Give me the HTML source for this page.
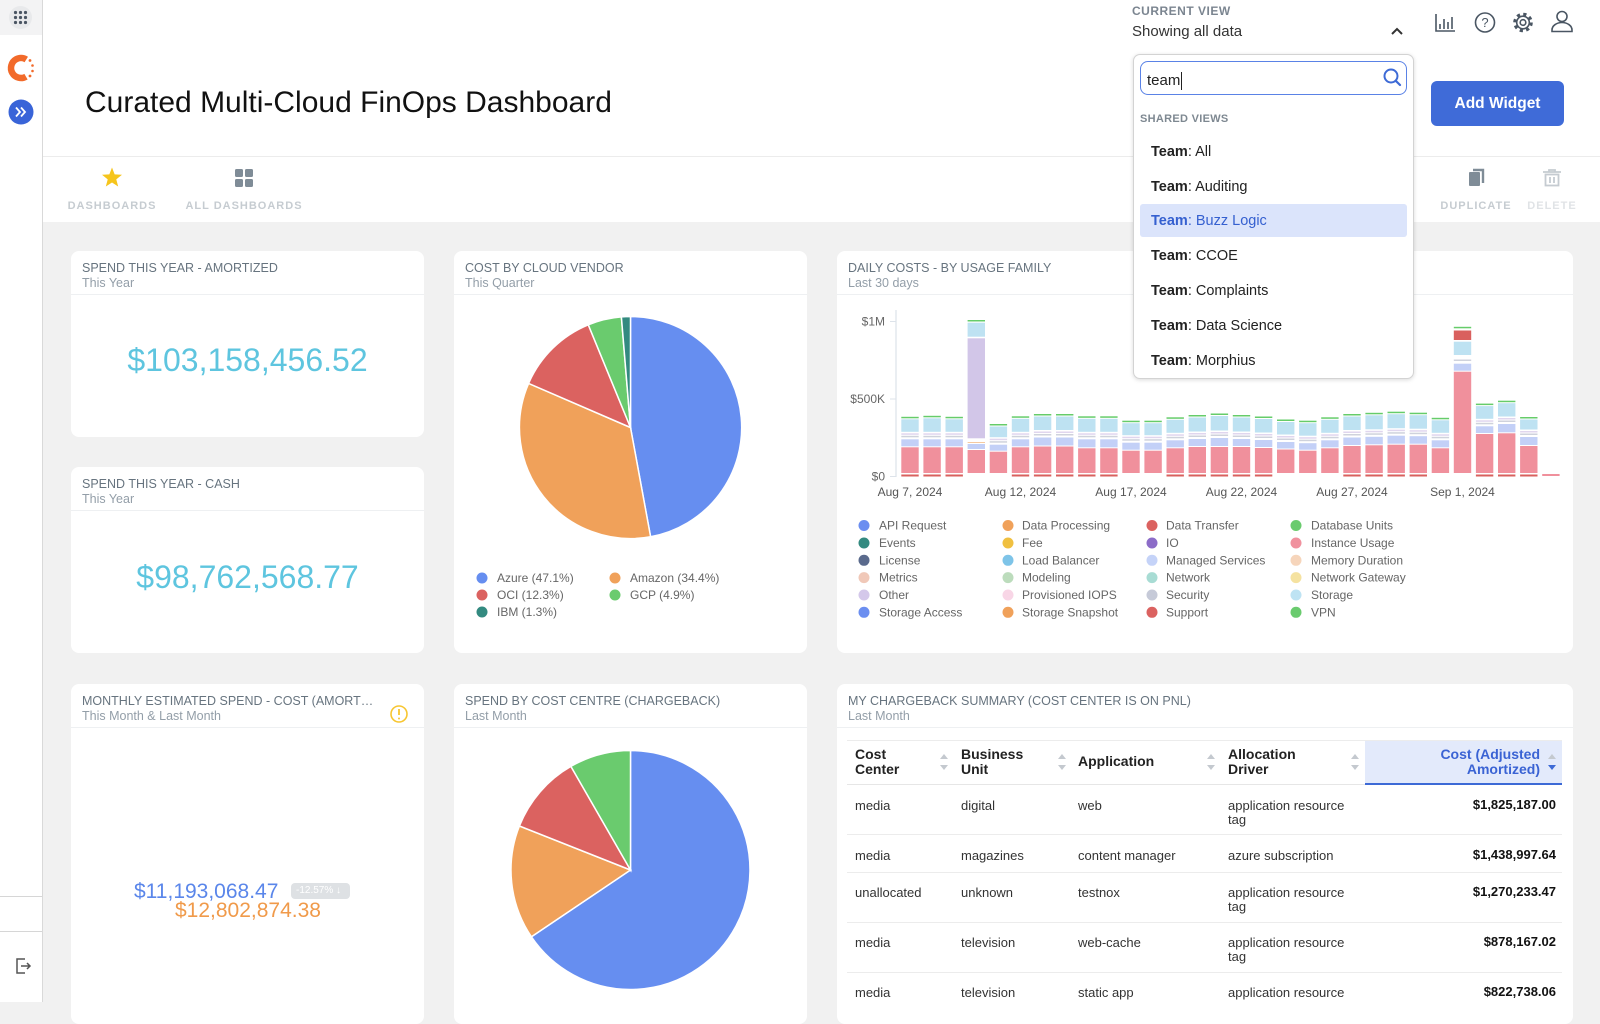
<!DOCTYPE html>
<html><head><meta charset="utf-8">
<style>
*{box-sizing:border-box;margin:0;padding:0}
html,body{width:1600px;height:1002px;overflow:hidden;background:#f1f1f1;font-family:"Liberation Sans",sans-serif}
.a{position:absolute;white-space:nowrap}
.card{position:absolute;background:#fff;border-radius:8px;overflow:hidden;z-index:1}
.ct{position:absolute;left:11px;top:10px;font-size:12.5px;line-height:14px;color:#67747f;white-space:nowrap}
.cs{position:absolute;left:11px;top:25px;font-size:12.5px;line-height:14px;color:#939ea8;white-space:nowrap}
.cd{position:absolute;left:0;right:0;top:43px;height:1px;background:#eef0f2}
.nav{font-size:11px;font-weight:bold;letter-spacing:1px;color:#c6ccd1;line-height:14px;text-align:center}
.td{font-size:13px;line-height:13.5px;color:#333}
.th{font-size:14px;font-weight:bold;line-height:15px;color:#222}
.amt{font-size:13px;font-weight:bold;color:#111;line-height:14px;text-align:right;width:150px}
.dd{position:absolute;left:1133px;top:54px;width:281px;height:325px;background:#fff;border:1px solid #d3d3d3;border-radius:7px;box-shadow:0 1px 4px rgba(0,0,0,.15);z-index:5}
.it{position:absolute;left:17px;font-size:14.5px;line-height:18px;color:#222;white-space:nowrap}
.it b{font-weight:bold}
</style></head><body>

<!-- sidebar -->
<div class="a" style="left:0;top:0;width:43px;height:1002px;background:#fff;border-right:1px solid #d9d9d9"></div>
<div class="a" style="left:0;top:0;width:42px;height:35px;background:#f3f3f4"></div>
<div class="a" style="left:0;top:896px;width:42px;height:1px;background:#d6d6d6"></div>
<div class="a" style="left:0;top:931px;width:42px;height:1px;background:#d6d6d6"></div>

<!-- header -->
<div class="a" style="left:43px;top:0;width:1557px;height:222px;background:#fff"></div>
<div class="a" style="left:43px;top:156px;width:1557px;height:1px;background:#ececec"></div>
<div class="a" style="left:85px;top:85px;font-size:30px;line-height:36px;color:#111">Curated Multi-Cloud FinOps Dashboard</div>

<div class="a nav" style="left:52px;top:199px;width:120px">DASHBOARDS</div>
<div class="a nav" style="left:174px;top:199px;width:140px">ALL DASHBOARDS</div>
<div class="a nav" style="left:1426px;top:199px;width:100px">DUPLICATE</div>
<div class="a nav" style="left:1522px;top:199px;width:60px;color:#e0e3e6">DELETE</div>

<div class="a" style="left:1132px;top:4px;font-size:12px;font-weight:bold;letter-spacing:.5px;line-height:14px;color:#7b8590">CURRENT VIEW</div>
<div class="a" style="left:1132px;top:23px;font-size:15px;line-height:18px;color:#333">Showing all data</div>

<div class="a" style="left:1431px;top:81px;width:133px;height:45px;background:#3f6bd8;border-radius:6px;color:#fff;font-size:15.5px;font-weight:bold;line-height:45px;text-align:center;z-index:2">Add Widget</div>

<!-- cards -->
<div class="card" style="left:71px;top:251px;width:353px;height:186px">
 <div class="ct">SPEND THIS YEAR - AMORTIZED</div><div class="cs">This Year</div><div class="cd"></div>
 <div class="a" style="left:0;width:353px;top:89px;font-size:32px;line-height:40px;color:#5ec5df;text-align:center">$103,158,456.52</div>
</div>
<div class="card" style="left:71px;top:467px;width:353px;height:186px">
 <div class="ct">SPEND THIS YEAR - CASH</div><div class="cs">This Year</div><div class="cd"></div>
 <div class="a" style="left:0;width:353px;top:90px;font-size:32px;line-height:40px;color:#5ec5df;text-align:center">$98,762,568.77</div>
</div>
<div class="card" style="left:454px;top:251px;width:353px;height:402px">
 <div class="ct">COST BY CLOUD VENDOR</div><div class="cs">This Quarter</div><div class="cd"></div>
</div>
<div class="card" style="left:837px;top:251px;width:736px;height:402px">
 <div class="ct">DAILY COSTS - BY USAGE FAMILY</div><div class="cs">Last 30 days</div><div class="cd"></div>
</div>
<div class="card" style="left:71px;top:684px;width:353px;height:340px">
 <div class="ct">MONTHLY ESTIMATED SPEND - COST (AMORT…</div><div class="cs">This Month &amp; Last Month</div><div class="cd"></div>
 <div class="a" style="left:63px;top:196px;font-size:21px;line-height:24px;color:#5a86ea">$11,193,068.47</div>
 <div class="a" style="left:220px;top:199px;width:59px;height:16px;background:#dee1e4;border-radius:4px;font-size:10px;line-height:16px;color:#fff;padding-left:5px">-12.57% &#8595;</div>
 <div class="a" style="left:104px;top:215px;font-size:21px;line-height:24px;color:#f09a4a">$12,802,874.38</div>
</div>
<div class="card" style="left:454px;top:684px;width:353px;height:340px">
 <div class="ct">SPEND BY COST CENTRE (CHARGEBACK)</div><div class="cs">Last Month</div><div class="cd"></div>
</div>
<div class="card" style="left:837px;top:684px;width:736px;height:340px">
 <div class="ct">MY CHARGEBACK SUMMARY (COST CENTER IS ON PNL)</div><div class="cs">Last Month</div><div class="cd"></div>
 <div class="a" style="left:10px;top:56px;width:715px;height:1px;background:#ececec"></div>
 <div class="a" style="left:528px;top:57px;width:197px;height:42px;background:#e3eafb"></div>
 <div class="a" style="left:10px;top:100px;width:715px;height:1px;background:#e6e6e6"></div>
 <div class="a" style="left:528px;top:99px;width:197px;height:2px;background:#3d6ad6"></div>
 <div class="a" style="left:10px;top:150px;width:715px;height:1px;background:#ececec"></div>
 <div class="a" style="left:10px;top:188px;width:715px;height:1px;background:#ececec"></div>
 <div class="a" style="left:10px;top:238px;width:715px;height:1px;background:#ececec"></div>
 <div class="a" style="left:10px;top:288px;width:715px;height:1px;background:#ececec"></div>
</div>

<!-- table text -->
<div class="a th" style="left:855px;top:747px;z-index:2">Cost<br>Center</div>
<div class="a th" style="left:961px;top:747px;z-index:2">Business<br>Unit</div>
<div class="a th" style="left:1078px;top:754px;z-index:2">Application</div>
<div class="a th" style="left:1228px;top:747px;z-index:2">Allocation<br>Driver</div>
<div class="a th" style="left:1380px;top:747px;width:160px;text-align:right;color:#3a63d4;z-index:2">Cost (Adjusted<br>Amortized)</div>

<div class="a td" style="left:855px;top:799px;z-index:2">media</div>
<div class="a td" style="left:961px;top:799px;z-index:2">digital</div>
<div class="a td" style="left:1078px;top:799px;z-index:2">web</div>
<div class="a td" style="left:1228px;top:799px;z-index:2">application resource<br>tag</div>
<div class="a amt" style="left:1406px;top:798px;z-index:2">$1,825,187.00</div>

<div class="a td" style="left:855px;top:849px;z-index:2">media</div>
<div class="a td" style="left:961px;top:849px;z-index:2">magazines</div>
<div class="a td" style="left:1078px;top:849px;z-index:2">content manager</div>
<div class="a td" style="left:1228px;top:849px;z-index:2">azure subscription</div>
<div class="a amt" style="left:1406px;top:848px;z-index:2">$1,438,997.64</div>

<div class="a td" style="left:855px;top:886px;z-index:2">unallocated</div>
<div class="a td" style="left:961px;top:886px;z-index:2">unknown</div>
<div class="a td" style="left:1078px;top:886px;z-index:2">testnox</div>
<div class="a td" style="left:1228px;top:886px;z-index:2">application resource<br>tag</div>
<div class="a amt" style="left:1406px;top:885px;z-index:2">$1,270,233.47</div>

<div class="a td" style="left:855px;top:936px;z-index:2">media</div>
<div class="a td" style="left:961px;top:936px;z-index:2">television</div>
<div class="a td" style="left:1078px;top:936px;z-index:2">web-cache</div>
<div class="a td" style="left:1228px;top:936px;z-index:2">application resource<br>tag</div>
<div class="a amt" style="left:1406px;top:935px;z-index:2">$878,167.02</div>

<div class="a td" style="left:855px;top:986px;z-index:2">media</div>
<div class="a td" style="left:961px;top:986px;z-index:2">television</div>
<div class="a td" style="left:1078px;top:986px;z-index:2">static app</div>
<div class="a td" style="left:1228px;top:986px;z-index:2">application resource</div>
<div class="a amt" style="left:1406px;top:985px;z-index:2">$822,738.06</div>

<!-- overlay svg -->
<svg class="a" style="left:0;top:0;z-index:3" width="1600" height="1002" viewBox="0 0 1600 1002" font-family="Liberation Sans, sans-serif">
<style>
.dt{fill:#d9605e}.p{fill:#f0909c}.m{fill:#c3d0f7}.g{fill:#cfd2dc}.l{fill:#e0d6ee}.s{fill:#bee2f2}.v{fill:#66cc6a}
.lg{font-size:12px;fill:#666}
</style>
<!-- sidebar icons -->
<circle cx="20.5" cy="17.5" r="11.5" fill="#e8e9eb"/>
<g fill="#4a5563">
<circle cx="15.5" cy="12.5" r="1.6"/><circle cx="20.5" cy="12.5" r="1.6"/><circle cx="25.5" cy="12.5" r="1.6"/>
<circle cx="15.5" cy="17.5" r="1.6"/><circle cx="20.5" cy="17.5" r="1.6"/><circle cx="25.5" cy="17.5" r="1.6"/>
<circle cx="15.5" cy="22.5" r="1.6"/><circle cx="20.5" cy="22.5" r="1.6"/><circle cx="25.5" cy="22.5" r="1.6"/>
</g>
<circle cx="21" cy="68" r="10" fill="none" stroke="#f26a2a" stroke-width="6.5" stroke-dasharray="41.9 20.9" transform="rotate(60 21 68)"/>
<g fill="#f26a2a"><circle cx="30" cy="60.5" r="1.4"/><circle cx="32.5" cy="65.5" r="1.3"/><circle cx="32.5" cy="71" r="1.3"/><circle cx="30" cy="76" r="1.4"/></g>
<circle cx="21" cy="112" r="12.5" fill="#3964d8"/>
<polyline points="16,107.5 20,112 16,116.5" fill="none" stroke="#fff" stroke-width="1.8"/>
<polyline points="21,107.5 25,112 21,116.5" fill="none" stroke="#fff" stroke-width="1.8"/>
<path d="M25,959 h-8 v14 h8" fill="none" stroke="#555" stroke-width="1.5"/>
<path d="M21,966 h9 M27,963 l3,3 l-3,3" fill="none" stroke="#555" stroke-width="1.5"/>

<!-- header icons -->
<polyline points="1392,34 1397,29 1402,34" fill="none" stroke="#333" stroke-width="2"/>
<g fill="none" stroke="#4a5663" stroke-width="1.6">
<path d="M1436,14 V31 H1455"/>
<path d="M1440,29 V24 M1444,29 V19 M1448,29 V22 M1452,29 V17"/>
<circle cx="1485" cy="22.5" r="9.5"/>
<circle cx="1523" cy="22.5" r="8.3" stroke-width="3" stroke-dasharray="3.2 3.32"/>
<circle cx="1523" cy="22.5" r="6.3" fill="#fff"/>
<circle cx="1523" cy="22.5" r="2.8"/>
<circle cx="1562" cy="16.5" r="5"/>
<path d="M1552,31.5 v-1.5 a10,7.5 0 0 1 20,0 v1.5 z"/>
</g>
<text x="1485" y="27" font-size="13" text-anchor="middle" fill="#4a5663">?</text>

<!-- nav icons -->
<polygon points="112,167.5 114.65,174.36 121.99,174.76 116.28,179.39 118.17,186.49 112,182.5 105.83,186.49 107.72,179.39 102.01,174.76 109.35,174.36" fill="#f6c51c"/>
<g fill="#7f8c97"><rect x="235" y="169" width="8" height="8" rx="1.5"/><rect x="245" y="169" width="8" height="8" rx="1.5"/><rect x="235" y="179" width="8" height="8" rx="1.5"/><rect x="245" y="179" width="8" height="8" rx="1.5"/>
<rect x="1469" y="172" width="11" height="14" rx="1"/></g>
<path d="M1473,170 H1483 V183" fill="none" stroke="#7f8c97" stroke-width="2.4"/>
<g fill="none" stroke="#c5cbd1" stroke-width="1.8"><path d="M1543,172 h18 M1549,172 v-2 h6 v2"/><rect x="1545.5" y="174.5" width="13" height="11"/><path d="M1550,177 v6 M1554,177 v6"/></g>

<!-- warning icon -->
<circle cx="399" cy="714" r="8" fill="none" stroke="#f7c631" stroke-width="1.6"/>
<path d="M399,709 v6" stroke="#f7c631" stroke-width="1.8"/><circle cx="399" cy="718.5" r="1" fill="#f7c631"/>

<!-- pie 1 -->
<g stroke="#fff" stroke-width="1.5">
<path d="M630.5,427.5 L630.5,316.5 A111,111 0 0 1 650.6,536.7 Z" fill="#668ef0"/>
<path d="M630.5,427.5 L650.6,536.7 A111,111 0 0 1 528.6,383.4 Z" fill="#f0a15a"/>
<path d="M630.5,427.5 L528.6,383.4 A111,111 0 0 1 588.3,324.8 Z" fill="#db6260"/>
<path d="M630.5,427.5 L588.3,324.8 A111,111 0 0 1 621.4,316.9 Z" fill="#6acb6e"/>
<path d="M630.5,427.5 L621.4,316.9 A111,111 0 0 1 630.5,316.5 Z" fill="#338a80"/>
</g>
<circle cx="482" cy="578" r="5.5" fill="#668ef0"/><text class="lg" x="497" y="582">Azure (47.1%)</text>
<circle cx="615" cy="578" r="5.5" fill="#f0a15a"/><text class="lg" x="630" y="582">Amazon (34.4%)</text>
<circle cx="482" cy="595" r="5.5" fill="#db6260"/><text class="lg" x="497" y="599">OCI (12.3%)</text>
<circle cx="615" cy="595" r="5.5" fill="#6acb6e"/><text class="lg" x="630" y="599">GCP (4.9%)</text>
<circle cx="482" cy="612" r="5.5" fill="#338a80"/><text class="lg" x="497" y="616">IBM (1.3%)</text>

<!-- pie 2 -->
<g stroke="#fff" stroke-width="1.5">
<path d="M630.5,870 L630.5,750.5 A119.5,119.5 0 1 1 531.4,936.8 Z" fill="#668ef0"/>
<path d="M630.5,870 L531.4,936.8 A119.5,119.5 0 0 1 519.4,826 Z" fill="#f0a15a"/>
<path d="M630.5,870 L519.4,826 A119.5,119.5 0 0 1 570.9,766.4 Z" fill="#db6260"/>
<path d="M630.5,870 L570.9,766.4 A119.5,119.5 0 0 1 630.5,750.5 Z" fill="#6acb6e"/>
</g>

<!-- table sort arrows -->
<g fill="#c4c9cf">
<path d="M940,759 h8 l-4,-5 z M940,765 h8 l-4,5 z"/>
<path d="M1058,759 h8 l-4,-5 z M1058,765 h8 l-4,5 z"/>
<path d="M1207,759 h8 l-4,-5 z M1207,765 h8 l-4,5 z"/>
<path d="M1351,759 h8 l-4,-5 z M1351,765 h8 l-4,5 z"/>
<path d="M1548,759 h8 l-4,-5 z"/>
</g>
<path d="M1548,765 h8 l-4,5 z" fill="#3d6ad6"/>

<!-- bar chart axes -->
<line x1="896" y1="310" x2="896" y2="477" stroke="#dde3ea" stroke-width="1.2"/>
<g stroke="#dde3ea"><line x1="890" y1="321.5" x2="896" y2="321.5"/><line x1="890" y1="399" x2="896" y2="399"/><line x1="890" y1="476.5" x2="896" y2="476.5"/></g>
<g class="lg" text-anchor="end"><text x="885" y="325.5">$1M</text><text x="885" y="403">$500K</text><text x="885" y="480.5">$0</text></g>
<g font-size="12" fill="#555" text-anchor="middle">
<text x="910" y="496">Aug 7, 2024</text><text x="1020.5" y="496">Aug 12, 2024</text><text x="1131" y="496">Aug 17, 2024</text>
<text x="1241.5" y="496">Aug 22, 2024</text><text x="1352" y="496">Aug 27, 2024</text><text x="1462.5" y="496">Sep 1, 2024</text>
</g>

<!-- bars -->
<g>
<g transform="translate(901.3,473) scale(1,-1)"><rect class="dt" y="-3.5" width="17.4" height="2"/><rect class="p" width="17.4" height="25.7"/><rect class="m" y="26.7" width="17.4" height="7"/><rect class="g" y="35.7" width="17.4" height="1.5"/><rect class="l" y="38.2" width="17.4" height="1.5"/><rect class="s" y="41.2" width="17.4" height="12.5"/><rect class="v" y="54.7" width="17.4" height="1.5"/></g>
<g transform="translate(923.4,473) scale(1,-1)"><rect class="dt" y="-3.5" width="17.4" height="2"/><rect class="p" width="17.4" height="25.7"/><rect class="m" y="26.7" width="17.4" height="7"/><rect class="g" y="35.7" width="17.4" height="1.5"/><rect class="l" y="38.2" width="17.4" height="1.5"/><rect class="s" y="41.2" width="17.4" height="13.5"/><rect class="v" y="55.7" width="17.4" height="1.5"/></g>
<g transform="translate(945.5,473) scale(1,-1)"><rect class="dt" y="-3.5" width="17.4" height="2"/><rect class="p" width="17.4" height="25.7"/><rect class="m" y="26.7" width="17.4" height="7"/><rect class="g" y="35.7" width="17.4" height="1.5"/><rect class="l" y="38.2" width="17.4" height="1.5"/><rect class="s" y="41.2" width="17.4" height="12.5"/><rect class="v" y="54.7" width="17.4" height="1.5"/></g>
<g transform="translate(967.6,473) scale(1,-1)"><rect class="p" width="17.4" height="23"/><rect class="m" y="24" width="17.4" height="5"/><rect fill="#f5c9a0" y="30" width="17.4" height="1"/><rect fill="#d2c6e8" y="34.7" width="17.4" height="100"/><rect class="s" y="136.3" width="17.4" height="14"/><rect class="v" y="151.5" width="17.4" height="1.5"/></g>
<g transform="translate(989.7,473) scale(1,-1)"><rect class="p" width="17.4" height="21.3"/><rect class="m" y="22.3" width="17.4" height="6"/><rect class="g" y="30.3" width="17.4" height="1.5"/><rect class="l" y="32.8" width="17.4" height="1.5"/><rect class="s" y="35.8" width="17.4" height="10.7"/><rect class="v" y="47.5" width="17.4" height="1.5"/></g>
<g transform="translate(1011.8,473) scale(1,-1)"><rect class="dt" y="-3.5" width="17.4" height="2"/><rect class="p" width="17.4" height="25.7"/><rect class="m" y="26.7" width="17.4" height="7"/><rect class="g" y="35.7" width="17.4" height="1.5"/><rect class="l" y="38.2" width="17.4" height="1.5"/><rect class="s" y="41.2" width="17.4" height="13"/><rect class="v" y="55.2" width="17.4" height="1.5"/></g>
<g transform="translate(1033.9,473) scale(1,-1)"><rect class="dt" y="-3.5" width="17.4" height="2"/><rect class="p" width="17.4" height="26.5"/><rect class="m" y="27.5" width="17.4" height="8"/><rect class="g" y="37.5" width="17.4" height="1.5"/><rect class="l" y="40" width="17.4" height="1.5"/><rect class="s" y="43" width="17.4" height="13.5"/><rect class="v" y="57.5" width="17.4" height="1.5"/></g>
<g transform="translate(1056,473) scale(1,-1)"><rect class="dt" y="-3.5" width="17.4" height="2"/><rect class="p" width="17.4" height="26.5"/><rect class="m" y="27.5" width="17.4" height="8"/><rect class="g" y="37.5" width="17.4" height="1.5"/><rect class="l" y="40" width="17.4" height="1.5"/><rect class="s" y="43" width="17.4" height="13.5"/><rect class="v" y="57.5" width="17.4" height="1.5"/></g>
<g transform="translate(1078.1,473) scale(1,-1)"><rect class="dt" y="-3.5" width="17.4" height="2"/><rect class="p" width="17.4" height="24.7"/><rect class="m" y="25.7" width="17.4" height="8"/><rect class="g" y="35.7" width="17.4" height="1.5"/><rect class="l" y="38.2" width="17.4" height="1.5"/><rect class="s" y="41.2" width="17.4" height="13"/><rect class="v" y="55.2" width="17.4" height="1.5"/></g>
<g transform="translate(1100.2,473) scale(1,-1)"><rect class="dt" y="-3.5" width="17.4" height="2"/><rect class="p" width="17.4" height="24.7"/><rect class="m" y="25.7" width="17.4" height="8"/><rect class="g" y="35.7" width="17.4" height="1.5"/><rect class="l" y="38.2" width="17.4" height="1.5"/><rect class="s" y="41.2" width="17.4" height="13"/><rect class="v" y="55.2" width="17.4" height="1.5"/></g>
<g transform="translate(1122.3,473) scale(1,-1)"><rect class="p" width="17.4" height="22.3"/><rect class="m" y="23.3" width="17.4" height="7"/><rect class="g" y="32.3" width="17.4" height="1.5"/><rect class="l" y="34.8" width="17.4" height="1.5"/><rect class="s" y="37.8" width="17.4" height="12"/><rect class="v" y="50.8" width="17.4" height="1.5"/></g>
<g transform="translate(1144.4,473) scale(1,-1)"><rect class="p" width="17.4" height="22.3"/><rect class="m" y="23.3" width="17.4" height="7"/><rect class="g" y="32.3" width="17.4" height="1.5"/><rect class="l" y="34.8" width="17.4" height="1.5"/><rect class="s" y="37.8" width="17.4" height="12"/><rect class="v" y="50.8" width="17.4" height="1.5"/></g>
<g transform="translate(1166.5,473) scale(1,-1)"><rect class="dt" y="-3.5" width="17.4" height="2"/><rect class="p" width="17.4" height="24.7"/><rect class="m" y="25.7" width="17.4" height="7"/><rect class="g" y="34.7" width="17.4" height="1.5"/><rect class="l" y="37.2" width="17.4" height="1.5"/><rect class="s" y="40.2" width="17.4" height="13"/><rect class="v" y="54.2" width="17.4" height="1.5"/></g>
<g transform="translate(1188.6,473) scale(1,-1)"><rect class="dt" y="-3.5" width="17.4" height="2"/><rect class="p" width="17.4" height="26"/><rect class="m" y="27" width="17.4" height="7"/><rect class="g" y="36" width="17.4" height="1.5"/><rect class="l" y="38.5" width="17.4" height="1.5"/><rect class="s" y="41.5" width="17.4" height="14"/><rect class="v" y="56.5" width="17.4" height="1.5"/></g>
<g transform="translate(1210.7,473) scale(1,-1)"><rect class="dt" y="-3.5" width="17.4" height="2"/><rect class="p" width="17.4" height="26"/><rect class="m" y="27" width="17.4" height="8"/><rect class="g" y="37" width="17.4" height="1.5"/><rect class="l" y="39.5" width="17.4" height="1.5"/><rect class="s" y="42.5" width="17.4" height="14.5"/><rect class="v" y="58" width="17.4" height="1.5"/></g>
<g transform="translate(1232.8,473) scale(1,-1)"><rect class="dt" y="-3.5" width="17.4" height="2"/><rect class="p" width="17.4" height="26"/><rect class="m" y="27" width="17.4" height="7"/><rect class="g" y="36" width="17.4" height="1.5"/><rect class="l" y="38.5" width="17.4" height="1.5"/><rect class="s" y="41.5" width="17.4" height="14"/><rect class="v" y="56.5" width="17.4" height="1.5"/></g>
<g transform="translate(1254.9,473) scale(1,-1)"><rect class="dt" y="-3.5" width="17.4" height="2"/><rect class="p" width="17.4" height="25"/><rect class="m" y="26" width="17.4" height="7"/><rect class="g" y="35" width="17.4" height="1.5"/><rect class="l" y="37.5" width="17.4" height="1.5"/><rect class="s" y="40.5" width="17.4" height="13.5"/><rect class="v" y="55" width="17.4" height="1.5"/></g>
<g transform="translate(1277,473) scale(1,-1)"><rect class="p" width="17.4" height="23.5"/><rect class="m" y="24.5" width="17.4" height="6.5"/><rect class="g" y="33" width="17.4" height="1.5"/><rect class="l" y="35.5" width="17.4" height="1.5"/><rect class="s" y="38.5" width="17.4" height="12.5"/><rect class="v" y="52" width="17.4" height="1.5"/></g>
<g transform="translate(1299.1,473) scale(1,-1)"><rect class="p" width="17.4" height="22.3"/><rect class="m" y="23.3" width="17.4" height="6.5"/><rect class="g" y="31.8" width="17.4" height="1.5"/><rect class="l" y="34.3" width="17.4" height="1.5"/><rect class="s" y="37.3" width="17.4" height="12.5"/><rect class="v" y="50.8" width="17.4" height="1.5"/></g>
<g transform="translate(1321.2,473) scale(1,-1)"><rect class="p" width="17.4" height="24.7"/><rect class="m" y="25.7" width="17.4" height="7"/><rect class="g" y="34.7" width="17.4" height="1.5"/><rect class="l" y="37.2" width="17.4" height="1.5"/><rect class="s" y="40.2" width="17.4" height="13"/><rect class="v" y="54.2" width="17.4" height="1.5"/></g>
<g transform="translate(1343.3,473) scale(1,-1)"><rect class="dt" y="-3.5" width="17.4" height="2"/><rect class="p" width="17.4" height="27"/><rect class="m" y="28" width="17.4" height="7.5"/><rect class="g" y="37.5" width="17.4" height="1.5"/><rect class="l" y="40" width="17.4" height="1.5"/><rect class="s" y="43" width="17.4" height="13.5"/><rect class="v" y="57.5" width="17.4" height="1.5"/></g>
<g transform="translate(1365.4,473) scale(1,-1)"><rect class="dt" y="-3.5" width="17.4" height="2"/><rect class="p" width="17.4" height="27.7"/><rect class="m" y="28.7" width="17.4" height="7.5"/><rect class="g" y="38.2" width="17.4" height="1.5"/><rect class="l" y="40.7" width="17.4" height="1.5"/><rect class="s" y="43.7" width="17.4" height="14"/><rect class="v" y="58.7" width="17.4" height="1.5"/></g>
<g transform="translate(1387.5,473) scale(1,-1)"><rect class="dt" y="-3.5" width="17.4" height="2"/><rect class="p" width="17.4" height="28.3"/><rect class="m" y="29.3" width="17.4" height="8"/><rect class="g" y="39.3" width="17.4" height="1.5"/><rect class="l" y="41.8" width="17.4" height="1.5"/><rect class="s" y="44.8" width="17.4" height="14"/><rect class="v" y="59.8" width="17.4" height="1.5"/></g>
<g transform="translate(1409.6,473) scale(1,-1)"><rect class="dt" y="-3.5" width="17.4" height="2"/><rect class="p" width="17.4" height="28.3"/><rect class="m" y="29.3" width="17.4" height="7.5"/><rect class="g" y="38.8" width="17.4" height="1.5"/><rect class="l" y="41.3" width="17.4" height="1.5"/><rect class="s" y="44.3" width="17.4" height="13.5"/><rect class="v" y="58.8" width="17.4" height="1.5"/></g>
<g transform="translate(1431.7,473) scale(1,-1)"><rect class="p" width="17.4" height="24.7"/><rect class="m" y="25.7" width="17.4" height="7"/><rect class="g" y="34.7" width="17.4" height="1.5"/><rect class="l" y="37.2" width="17.4" height="1.5"/><rect class="s" y="40.2" width="17.4" height="12.5"/><rect class="v" y="53.7" width="17.4" height="1.5"/></g>
<g transform="translate(1453.8,473) scale(1,-1)"><rect class="p" width="17.4" height="101.3"/><rect class="m" y="102.3" width="17.4" height="7"/><rect class="g" y="112" width="17.4" height="1.5"/><rect class="s" y="118" width="17.4" height="13.3"/><rect class="dt" y="133" width="17.4" height="9.5"/><rect class="v" y="144.7" width="17.4" height="1.5"/></g>
<g transform="translate(1475.9,473) scale(1,-1)"><rect class="dt" y="-3.5" width="17.4" height="2"/><rect class="p" width="17.4" height="39"/><rect class="m" y="40" width="17.4" height="6.7"/><rect class="g" y="48.7" width="17.4" height="1.5"/><rect class="l" y="51.2" width="17.4" height="1.5"/><rect class="s" y="54.2" width="17.4" height="12.7"/><rect class="v" y="67.9" width="17.4" height="1.5"/></g>
<g transform="translate(1498,473) scale(1,-1)"><rect class="dt" y="-3.5" width="17.4" height="2"/><rect class="p" width="17.4" height="39.7"/><rect class="m" y="40.7" width="17.4" height="8.3"/><rect class="g" y="51" width="17.4" height="1.5"/><rect class="l" y="53.5" width="17.4" height="1.5"/><rect class="s" y="56.5" width="17.4" height="13.3"/><rect class="v" y="70.8" width="17.4" height="1.5"/></g>
<g transform="translate(1520.1,473) scale(1,-1)"><rect class="dt" y="-3.5" width="17.4" height="2"/><rect class="p" width="17.4" height="27"/><rect class="m" y="28" width="17.4" height="8"/><rect class="g" y="38" width="17.4" height="1.5"/><rect class="l" y="40.5" width="17.4" height="1.5"/><rect class="s" y="43.5" width="17.4" height="10"/><rect class="v" y="54.5" width="17.4" height="1.5"/></g>
<g transform="translate(1542.2,473) scale(1,-1)"><rect class="p" y="-3" width="17.4" height="2"/></g>
</g>

<!-- bar legend -->
<g>
<circle cx="864" cy="525.5" r="5.5" fill="#6b8ef0"/><text class="lg" x="879" y="529.5">API Request</text>
<circle cx="1008" cy="525.5" r="5.5" fill="#f0a15a"/><text class="lg" x="1022" y="529.5">Data Processing</text>
<circle cx="1152" cy="525.5" r="5.5" fill="#db6260"/><text class="lg" x="1166" y="529.5">Data Transfer</text>
<circle cx="1296" cy="525.5" r="5.5" fill="#6acb6e"/><text class="lg" x="1311" y="529.5">Database Units</text>

<circle cx="864" cy="543" r="5.5" fill="#338a80"/><text class="lg" x="879" y="547">Events</text>
<circle cx="1008" cy="543" r="5.5" fill="#f0c040"/><text class="lg" x="1022" y="547">Fee</text>
<circle cx="1152" cy="543" r="5.5" fill="#8c6cc8"/><text class="lg" x="1166" y="547">IO</text>
<circle cx="1296" cy="543" r="5.5" fill="#f0919e"/><text class="lg" x="1311" y="547">Instance Usage</text>

<circle cx="864" cy="560.3" r="5.5" fill="#5a6a8c"/><text class="lg" x="879" y="564.3">License</text>
<circle cx="1008" cy="560.3" r="5.5" fill="#7ec4e8"/><text class="lg" x="1022" y="564.3">Load Balancer</text>
<circle cx="1152" cy="560.3" r="5.5" fill="#c5d3f8"/><text class="lg" x="1166" y="564.3">Managed Services</text>
<circle cx="1296" cy="560.3" r="5.5" fill="#f6d5bb"/><text class="lg" x="1311" y="564.3">Memory Duration</text>

<circle cx="864" cy="577.6" r="5.5" fill="#f0c8b8"/><text class="lg" x="879" y="581.6">Metrics</text>
<circle cx="1008" cy="577.6" r="5.5" fill="#bcdcbc"/><text class="lg" x="1022" y="581.6">Modeling</text>
<circle cx="1152" cy="577.6" r="5.5" fill="#a8dcd4"/><text class="lg" x="1166" y="581.6">Network</text>
<circle cx="1296" cy="577.6" r="5.5" fill="#f5e2a0"/><text class="lg" x="1311" y="581.6">Network Gateway</text>

<circle cx="864" cy="595" r="5.5" fill="#d4c8ea"/><text class="lg" x="879" y="599">Other</text>
<circle cx="1008" cy="595" r="5.5" fill="#f8d6e6"/><text class="lg" x="1022" y="599">Provisioned IOPS</text>
<circle cx="1152" cy="595" r="5.5" fill="#c6cad8"/><text class="lg" x="1166" y="599">Security</text>
<circle cx="1296" cy="595" r="5.5" fill="#bee3f3"/><text class="lg" x="1311" y="599">Storage</text>

<circle cx="864" cy="612.3" r="5.5" fill="#6b8ef0"/><text class="lg" x="879" y="616.3">Storage Access</text>
<circle cx="1008" cy="612.3" r="5.5" fill="#f0a15a"/><text class="lg" x="1022" y="616.3">Storage Snapshot</text>
<circle cx="1152" cy="612.3" r="5.5" fill="#db6260"/><text class="lg" x="1166" y="616.3">Support</text>
<circle cx="1296" cy="612.3" r="5.5" fill="#6acb6e"/><text class="lg" x="1311" y="616.3">VPN</text>
</g>
</svg>

<!-- dropdown -->
<div class="dd">
 <div class="a" style="left:6px;top:6px;width:267px;height:34px;border:1.5px solid #5a82e6;border-radius:8px">
  <div class="a" style="left:6px;top:10px;font-size:15px;line-height:18px;color:#222">team</div>
  <div class="a" style="left:40px;top:10px;width:1px;height:18px;background:#222"></div>
  <svg class="a" style="left:240px;top:4px" width="22" height="22" viewBox="0 0 22 22"><circle cx="10" cy="10" r="6.5" fill="none" stroke="#3d6ad6" stroke-width="2"/><line x1="14.8" y1="14.8" x2="19" y2="19" stroke="#3d6ad6" stroke-width="2.2" stroke-linecap="round"/></svg>
 </div>
 <div class="a" style="left:6px;top:57px;font-size:11px;font-weight:bold;letter-spacing:.3px;line-height:14px;color:#7e8891">SHARED VIEWS</div>
 <div class="a" style="left:6px;top:149px;width:267px;height:33px;background:#dbe4fb;border-radius:3px"></div>
 <div class="it" style="top:88px"><b>Team</b>: All</div>
 <div class="it" style="top:123px"><b>Team</b>: Auditing</div>
 <div class="it" style="top:157px;color:#3560d0"><b>Team</b>: Buzz Logic</div>
 <div class="it" style="top:192px"><b>Team</b>: CCOE</div>
 <div class="it" style="top:227px"><b>Team</b>: Complaints</div>
 <div class="it" style="top:262px"><b>Team</b>: Data Science</div>
 <div class="it" style="top:297px"><b>Team</b>: Morphius</div>
</div>

</body></html>
